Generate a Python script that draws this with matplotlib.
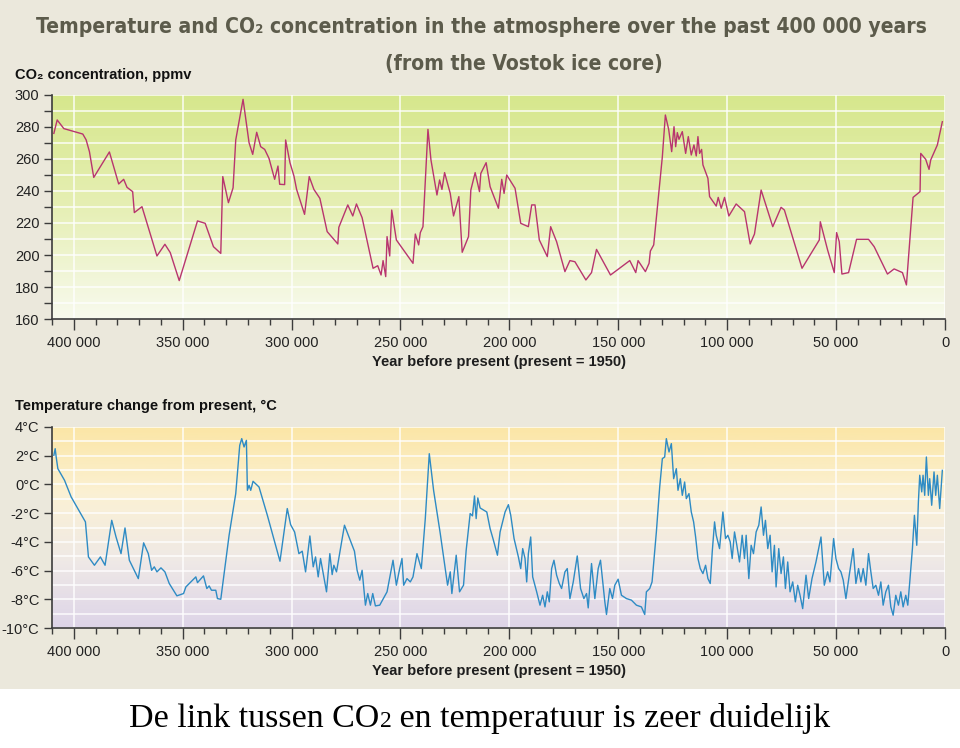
import numpy as np
import matplotlib
matplotlib.use("Agg")
import matplotlib.pyplot as plt
from matplotlib import font_manager
from matplotlib.colors import LinearSegmentedColormap
from matplotlib.ticker import MultipleLocator, FuncFormatter


# ----- DATA -----
co2_years = [409150, 407620, 404570, 401210, 396630, 395870, 394340, 392810, 390830,
             383650, 379380, 377090, 375560, 372970, 372200, 368690, 361820, 358160,
             355710, 351590, 343200, 339680, 335870, 332510, 331590, 329000, 326860,
             325640, 322280, 319530, 317850, 316020, 314190, 312350, 310370, 307770,
             306250, 305480, 303190, 302740, 300750, 298920, 297700, 294040, 291900,
             289760, 287010, 283660, 278770, 278310, 274190, 271900, 270220, 267620,
             262590, 260450, 258920, 258000, 256780, 256170, 254950, 254030, 251890,
             244260, 243190, 241660, 240900, 239680, 237390, 236010, 233260, 232040,
             230970, 229750, 227160, 225640, 223200, 221670, 218770, 217700, 215720,
             213730, 213120, 210680, 208850, 205030, 203510, 202440, 201220, 197400,
             194800, 191290, 189760, 188240, 186260, 182590, 181060, 178320, 174500,
             172210, 169920, 164880, 162290, 160000, 153580, 144730, 141980, 140920,
             137550, 135870, 135260, 133740, 129770, 128390, 126870, 125490, 124420,
             123660, 122900, 122130, 120610, 119080, 117860, 116490, 115270, 114200,
             113430, 112670, 111750, 111140, 108850, 108090, 105040, 104120, 102740,
             101220, 99240, 95880, 92060, 89460, 87480, 84420, 79080, 75260, 73740,
             65650, 57710, 57250, 53890, 50840, 49770, 48550, 47330, 44270, 40610,
             35110, 32520, 26420, 23360, 19540, 17710, 14660, 11450, 11140, 8860,
             7330, 6560, 3510, 1220]
co2_ppmv = [276, 284.4, 279, 277.7, 276, 275.6, 272, 264.6, 248.5,
            264.4, 244.4, 247.3, 242.3, 239.6, 226.5, 230.2, 199.4, 206.7,
            201.5, 184, 221.3, 219.8, 205.2, 201, 249, 232.7, 242,
            271.9, 297.3, 270.2, 262.9, 276.7, 267.7, 266, 260.4, 247.3,
            255.6, 244.2, 244, 271.9, 257.7, 249.4, 241, 225.4, 249,
            241, 235.4, 214.6, 206.9, 217.3, 231.3, 224.4, 231.9, 223.3,
            191.7, 193.3, 187.5, 196.5, 186.5, 211.5, 199.4, 228.1, 209.4,
            194.8, 213.1, 206.3, 214, 217.7, 278.5, 259.4, 237.5, 246.9,
            241, 251.5, 238.5, 224.4, 236.5, 201.7, 211.5, 240.6, 251.5,
            239.6, 251, 257.7, 242.7, 229.2, 247.3, 238.5, 250, 241.7,
            219.8, 217.7, 231.3, 231.3, 209.4, 199, 217.7, 208.3, 189.6,
            196.5, 195.8, 184.4, 189, 203.5, 187.5, 196.5, 189, 196.5,
            189.6, 194.8, 202.5, 206.3, 261.5, 287.5, 278.5, 264.6, 280.2,
            267.7, 276.5, 272.3, 277.1, 263.5, 274, 262.5, 268.8, 261.9,
            274, 263.5, 266, 256.3, 247.9, 236.5, 230.6, 236, 229.2,
            236, 224.4, 231.9, 227.1, 206.9, 213.1, 240.6, 217.7, 229.8, 228.1,
            191.7, 209.4, 220.8, 203.1, 189, 214, 208.3, 188.1, 189, 209.8,
            209.8, 205.2, 188.1, 191.3, 189, 181.3, 236, 239.6, 263.5, 259.8,
            253.5, 259.4, 268.8, 283.3]

temp_years = [409150, 408540, 408080, 407320, 404260, 401210, 398160, 394650, 393270,
              390520, 387780, 385640, 382580, 380600, 378310, 376480, 374490, 370370,
              367930, 365790, 364260, 363040, 361820, 359980, 358160, 356170, 352660,
              349600, 348540, 343960, 343200, 340450, 338920, 337850, 336780, 334800,
              334040, 332510, 328690, 325640, 323810, 322890, 321820, 320750, 320290,
              319530, 318760, 317700, 314950, 311130, 305330, 301980, 300450, 298620,
              296640, 295110, 293580, 291600, 290070, 289000, 287780, 286710, 283960,
              282440, 281370, 280600, 279380, 275720, 271140, 269920, 268700, 267620,
              266100, 265030, 263810, 262740, 261520, 259530, 256170, 253430, 251890,
              250370, 249310, 248540, 247010, 245490, 244260, 242430, 240440, 238610,
              236780, 234800, 231740, 228380, 227160, 226410, 224420, 222890, 221060,
              219840, 218010, 216940, 216020, 215260, 214500, 213430, 210380,
              208850, 207320, 205490, 204270, 201980, 200450, 199380, 197860, 195870,
              194800, 193890, 192820, 192060, 191290, 190220, 189310, 187480, 185950,
              184730, 183660, 182590, 181680, 180610, 179540, 178320, 177090, 176030,
              174500, 173430, 172210, 170680, 168850, 167320, 165800, 164580, 163810,
              162290, 160760, 159230, 158170, 156180, 155420, 153900, 152670, 151600,
              150070, 148550, 146260, 143960, 141680, 139390, 137860, 137100, 135570,
              134500, 132520, 130990, 129770, 128700, 127940, 126710, 125640, 124580,
              123350, 122590, 121520, 120610, 119540, 118770, 117550, 116490, 115420,
              114500, 113430, 112360, 111140, 109920, 108850, 107780, 106870, 105800,
              105040, 103510, 101980, 100760, 99690, 98620, 97710, 96640, 95570,
              94350, 93120, 92060, 91290, 90070, 89000, 87930, 86710, 85490, 84420,
              83340, 82440, 81370, 80300, 79380, 78320, 77550, 76330, 75260, 74190,
              73280, 72210, 71140, 69920, 68700, 67630, 66560, 65340, 63810, 62590,
              61070, 59240, 56940, 55420, 53890, 52820, 51140, 50080, 48850, 47780,
              46720, 45490, 43960, 42140, 40910, 39690, 38620, 37560, 36330, 35110,
              34040, 32970, 31750, 30530, 29460, 28400, 27180, 25950, 24880, 23810,
              22600, 21380, 20300, 19230, 18010, 17090, 16180, 14960, 14040, 12970,
              12220, 11600, 10680, 10080, 9320, 8550, 7630, 7020, 6110, 5040, 4270,
              3510, 2440, 1220]
temp_change = [2.03, 2.49, 1.91, 1.1, 0.29, -0.87, -1.68, -2.61, -5.05,
               -5.63, -5.05, -5.63, -2.5, -3.66, -4.82, -3.03, -5.28, -6.56,
               -4.07, -4.82, -5.98, -5.74, -6.09, -5.81, -6.09, -6.9, -7.76,
               -7.6, -7.14, -6.44, -6.84, -6.37, -7.25, -7.07, -7.37, -7.37,
               -7.95, -8.0, -3.54, -0.64, 2.72, 3.19, 2.61, 3.07, -0.41,
               -0.06, -0.41, 0.22, -0.18, -2.15, -5.35, -1.68, -2.8, -3.31,
               -4.82, -4.65, -6.09, -3.59, -5.74, -5.05, -6.44, -5.16, -7.48,
               -4.82, -6.28, -5.63, -6.09, -2.84, -4.65, -5.98, -6.67, -5.98,
               -8.41, -7.6, -8.41, -7.6, -8.46, -8.41, -7.48, -5.28, -7.02,
               -5.86, -5.16, -7.02, -6.56, -6.79, -6.44, -4.82, -5.86, -2.38,
               2.14, -0.41, -3.42, -7.02, -6.09, -7.6, -4.93, -7.48, -7.02,
               -4.58, -2.03, -2.19, -0.8, -2.38, -0.94, -1.64, -1.92,
               -3.08, -3.89, -4.93, -3.31, -1.92, -1.41, -2.15, -3.77, -5.05,
               -5.86, -4.47, -5.16, -6.79, -4.82, -3.66, -6.44, -7.48, -8.41,
               -7.72, -8.53, -7.48, -8.18, -5.86, -5.28, -6.32, -6.9, -7.25,
               -6.09, -5.86, -7.95, -6.79, -4.98, -7.25, -7.95, -7.6, -8.6,
               -5.51, -7.95, -5.86, -5.28, -8.18, -9.06, -7.25, -7.95, -7.02,
               -6.6, -7.72, -7.95, -8.06, -8.41, -8.53, -9.06, -7.48, -7.25,
               -6.79, -3.31, -0.18, 1.8, 1.91, 3.19, 2.26, 2.84, 0.4,
               1.1, -0.41, 0.4, -0.76, 0.17, -0.99, -0.64, -1.92, -2.61,
               -3.66, -5.16, -5.86, -6.21, -5.63, -6.56, -6.9, -4.7, -2.61,
               -3.54, -4.47, -1.92, -3.77, -3.54, -4.0, -5.16, -3.31, -4.24,
               -5.4, -3.54, -5.16, -3.54, -6.56, -4.24, -4.82, -3.31, -2.84, -1.57,
               -3.54, -2.5, -4.47, -3.54, -6.09, -4.24, -7.14, -4.47, -6.21, -5.05,
               -7.25, -5.4, -7.48, -6.79, -8.18, -7.02, -7.72, -8.65, -6.32, -7.95,
               -6.56, -5.4, -3.66, -7.02, -6.09, -6.79, -3.77, -5.16, -5.86, -6.09,
               -6.67, -7.95, -6.32, -4.47, -6.9, -5.86, -6.79, -5.86, -7.02, -4.82,
               -6.09, -7.25, -7.02, -7.72, -6.79, -8.41, -7.48, -7.02, -8.53, -9.11,
               -7.72, -8.41, -7.48, -8.53, -7.72, -8.41, -6.79, -4.47, -2.15, -4.24,
               -1.22, 0.64, -0.52, 0.64, -0.76, 1.91, -0.76, 0.4, -1.45, 0.87, -0.76,
               0.64, -1.68, 0.98]

x_ticks = [400000, 350000, 300000, 250000, 200000, 150000, 100000, 50000, 0]
co2_ticks = [160, 180, 200, 220, 240, 260, 280, 300]
temp_ticks = [4, 2, 0, -2, -4, -6, -8, -10]

# ----- STYLE -----
BEIGE = "#ebe8dc"
TITLE_COLOR = "#5c5b4b"
CO2_COLOR = "#b8356e"
TEMP_COLOR = "#2e8bc4"
AXIS_COLOR = "#3c3c3c"

plt.rcParams["font.family"] = ["Liberation Sans", "DejaVu Sans"]


def condensed_bold():
    # look for a narrow bold face for the big title, else plain bold
    for f in font_manager.fontManager.ttflist:
        if "narrow" in f.name.lower() or "condensed" in f.name.lower() or f.stretch in ("condensed", "semi-condensed"):
            if f.weight in (700, "bold") and f.style == "normal":
                return font_manager.FontProperties(fname=f.fname)
    return font_manager.FontProperties(family="Liberation Sans", weight="bold")


fig = plt.figure(figsize=(9.6, 7.48), dpi=100)
fig.patch.set_facecolor("white")

# beige panel behind the two charts, white strip at the bottom for the caption
bg = fig.add_axes([0, 0, 1, 1], zorder=-10)
bg.set_xlim(0, 1)
bg.set_ylim(0, 1)
bg.axis("off")
bg.axhspan(1 - 689 / 748, 1, color=BEIGE, lw=0)


def gradient(ax, colors):
    cmap = LinearSegmentedColormap.from_list("bg", colors)
    grad = np.linspace(0, 1, 256).reshape(-1, 1)
    ax.imshow(grad, cmap=cmap, aspect="auto", extent=[0, 1, 0, 1],
              transform=ax.transAxes, origin="upper", zorder=0)


def year_fmt(v, pos):
    return f"{int(round(v)):,}".replace(",", " ")


def style_axes(ax):
    for side in ("top", "right"):
        ax.spines[side].set_visible(False)
    for side in ("left", "bottom"):
        ax.spines[side].set_color(AXIS_COLOR)
        ax.spines[side].set_linewidth(1.2)
    ax.set_xlim(410000, 0)
    ax.set_xticks(x_ticks)
    ax.xaxis.set_minor_locator(MultipleLocator(10000))
    ax.xaxis.set_major_formatter(FuncFormatter(year_fmt))
    ax.tick_params(axis="x", which="major", length=8, width=1, color=AXIS_COLOR,
                   labelsize=10.5, pad=4, labelcolor="#222222")
    ax.tick_params(axis="x", which="minor", length=4, width=1, color=AXIS_COLOR)
    ax.tick_params(axis="y", which="both", length=6, width=1, color=AXIS_COLOR,
                   labelsize=10.5, pad=3, labelcolor="#222222")
    ax.set_axisbelow(True)
    ax.grid(axis="x", which="major", color="white", lw=1.1, alpha=0.9)
    ax.grid(axis="y", which="both", color="white", lw=1.1, alpha=0.9)
    ax.set_xlabel("Year before present (present = 1950)", fontsize=10.5,
                  fontweight="bold", color="#1e1e1e", labelpad=4)


# ----- CO2 CHART -----
ax1 = fig.add_axes([52 / 960, 1 - 319 / 748, 893 / 960, 224 / 748])
gradient(ax1, ["#d6e78c", "#e6efb4", "#f8faee"])
ax1.plot(co2_years, co2_ppmv, color=CO2_COLOR, lw=1.0, zorder=3)
style_axes(ax1)
ax1.set_ylim(160, 300)
ax1.set_yticks(co2_ticks)
ax1.yaxis.set_minor_locator(MultipleLocator(10))

# ----- TEMPERATURE CHART -----
ax2 = fig.add_axes([52 / 960, 1 - 628 / 748, 893 / 960, 201 / 748])
gradient(ax2, ["#fbe6a6", "#fbf1d4", "#efe9e6", "#ddd4e8"])
ax2.plot(temp_years, temp_change, color=TEMP_COLOR, lw=1.0, zorder=3)
style_axes(ax2)
ax2.set_ylim(-10, 4)
ax2.set_yticks(temp_ticks)
ax2.yaxis.set_major_formatter(FuncFormatter(lambda v, p: f"{int(v)}°C"))
ax2.yaxis.set_minor_locator(MultipleLocator(1))
ax2.tick_params(axis="y", which="minor", length=0)

# ----- TEXTS -----
renderer = fig.canvas.get_renderer()

title_fp = condensed_bold()
t1 = fig.text(481 / 960, 1 - 33 / 748,
              "Temperature and CO₂ concentration in the atmosphere over the past 400 000 years",
              ha="center", va="baseline", fontproperties=title_fp, fontsize=19.5,
              color=TITLE_COLOR)
# shrink the title so it spans the same width as in the reference
w1 = t1.get_window_extent(renderer).width
title_size = min(19.5, 19.5 * 888 / w1)
t1.set_fontsize(title_size)
fig.text(524 / 960, 1 - 70 / 748, "(from the Vostok ice core)",
         ha="center", va="baseline", fontproperties=title_fp, fontsize=title_size,
         color=TITLE_COLOR)

fig.text(15 / 960, 1 - 79 / 748, "CO₂ concentration, ppmv", ha="left",
         va="baseline", fontsize=10.5, fontweight="bold", color="#111111")
fig.text(15 / 960, 1 - 410 / 748, "Temperature change from present, °C", ha="left",
         va="baseline", fontsize=10.5, fontweight="bold", color="#111111")

# caption: "CO2" uses a smaller 2 on the baseline
parts = [("De link tussen CO", 24.5), ("2", 17), (" en temperatuur is zeer duidelijk", 24.5)]
texts = [fig.text(0, 1 - 727 / 748, s, ha="left", va="baseline", fontsize=fs,
                  family=["Liberation Serif", "DejaVu Serif"], color="black")
         for s, fs in parts]
widths = [t.get_window_extent(renderer).width for t in texts]
x = 480 - sum(widths) / 2
for t, w in zip(texts, widths):
    t.set_x(x / 960)
    x += w

fig.savefig("out.png", dpi=100, facecolor=fig.get_facecolor())
